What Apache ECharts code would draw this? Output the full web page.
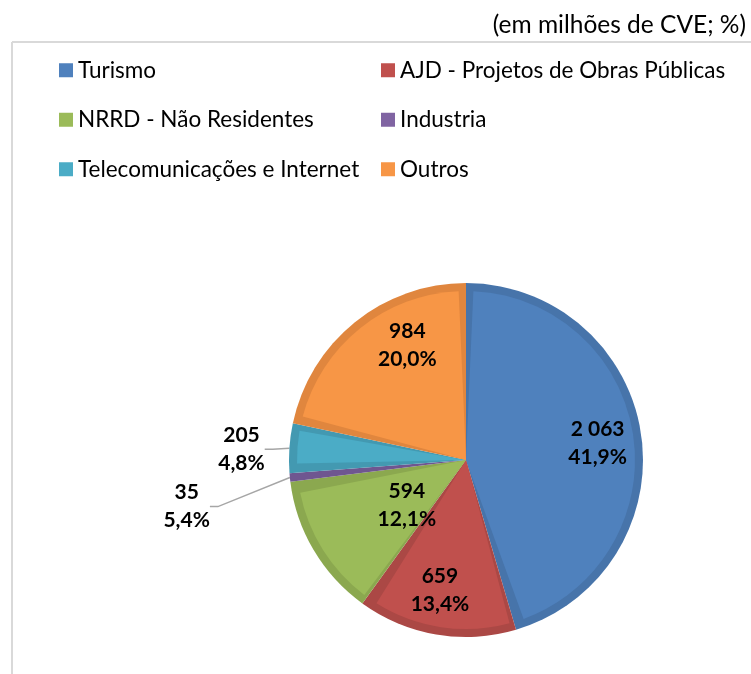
<!DOCTYPE html>
<html>
<head>
<meta charset="utf-8">
<script src="https://cdn.jsdelivr.net/npm/echarts@6/dist/echarts.min.js"></script>
<style>
  html, body { margin: 0; padding: 0; background: #fff; }
  #chart { width: 751px; height: 674px; }
</style>
</head>
<body>
<div id="chart"></div>
<script>
// data
var categories = ['Turismo', 'AJD - Projetos de Obras Públicas', 'NRRD - Não Residentes', 'Industria', 'Telecomunicações e Internet', 'Outros'];
var values = [2063, 659, 594, 35, 205, 984];
var pctLabels = ['41,9%', '13,4%', '12,1%', '5,4%', '4,8%', '20,0%'];

// styles
var fillColors = ['#4f81bd', '#c0504d', '#9bbb59', '#8064a2', '#4bacc6', '#f79646'];
var edgeColors = ['#4774aa', '#ab4845', '#8ba84f', '#6f5690', '#4399b1', '#e0863e'];
var outsideLabel = [false, false, false, true, true, false];
// label placement: distance as a fraction of the pie radius, and turn (degrees) off the slice middle
var labelRadius = [0.75, 0.75, 0.42, 1.60, 1.27, 0.73];
var labelTurn = [0.8, 1.6, -6.7, -3.8, -1.1, 12];

var FONT = 'Lato, "Open Sans", sans-serif';
var CX = 466, CY = 460, R = 177, INSET = 8;

function fmtNum(v) {
  return String(v).replace(/\B(?=(\d{3})+(?!\d))/g, ' ');
}

// middle angle of each slice, clockwise from 12 o'clock
var total = values.reduce(function (a, b) { return a + b; }, 0);
var midAngle = [];
var acc = 0;
for (var i = 0; i < values.length; i++) {
  midAngle.push((acc + values[i] / 2) / total * 360);
  acc += values[i];
}

function labelSpot(p) {
  var i = p.dataIndex;
  var a = (midAngle[i] + labelTurn[i]) * Math.PI / 180;
  return {
    x: CX + Math.sin(a) * labelRadius[i] * R,
    y: CY - Math.cos(a) * labelRadius[i] * R,
    align: 'center',
    verticalAlign: 'middle'
  };
}

var labelText = {
  color: '#000',
  fontFamily: FONT,
  fontSize: 21,
  fontWeight: 'bold',
  lineHeight: 28,
  align: 'center',
  formatter: function (p) {
    return fmtNum(values[p.dataIndex]) + '\n' + pctLabels[p.dataIndex];
  }
};

var backData = [], frontData = [];
for (var i = 0; i < categories.length; i++) {
  backData.push({
    name: categories[i],
    value: values[i],
    itemStyle: { color: edgeColors[i] },
    label: { show: outsideLabel[i] },
    labelLine: { show: outsideLabel[i] }
  });
  frontData.push({
    name: categories[i],
    value: values[i],
    itemStyle: { color: fillColors[i] },
    label: { show: !outsideLabel[i] }
  });
}

var legendStyle = {
  orient: 'vertical',
  top: 56,
  padding: 0,
  itemGap: 21,
  itemWidth: 14,
  itemHeight: 14,
  icon: 'rect',
  itemStyle: { borderWidth: 0 },
  textStyle: { fontSize: 22.5, fontFamily: FONT, color: '#000', lineHeight: 28.5 }
};

var chart = echarts.init(document.getElementById('chart'));

var option = {
  animation: false,
  title: {
    text: '(em milhões de CVE; %)',
    right: 0,
    top: 8,
    textStyle: { fontSize: 24.5, fontWeight: 'normal', fontFamily: FONT, color: '#000' }
  },
  legend: [
    Object.assign({ left: 59, data: [categories[0], categories[2], categories[4]] }, legendStyle),
    Object.assign({ left: 381, data: [categories[1], categories[3], categories[5]] }, legendStyle)
  ],
  graphic: [
    { type: 'line', shape: { x1: 12, y1: 42, x2: 751, y2: 42 }, style: { stroke: '#d9d9d9', lineWidth: 2 } },
    { type: 'line', shape: { x1: 12, y1: 42, x2: 12, y2: 674 }, style: { stroke: '#d9d9d9', lineWidth: 2 } }
  ],
  series: [{
    // lighter inner part of each slice, drawn over the darker rim
    type: 'pie',
    z: 3,
    center: [CX, CY],
    radius: [0, R - INSET],
    startAngle: 90,
    padAngle: 5,
    silent: true,
    avoidLabelOverlap: false,
    label: Object.assign({ show: true, position: 'inside' }, labelText),
    labelLine: { show: false },
    labelLayout: labelSpot,
    data: frontData
  }, {
    // full slices in the darker rim colour
    type: 'pie',
    z: 2,
    center: [CX, CY],
    radius: [0, R],
    startAngle: 90,
    silent: true,
    avoidLabelOverlap: false,
    label: Object.assign({ position: 'outside' }, labelText),
    labelLine: {
      length: 6,
      length2: 8,
      lineStyle: { color: '#a6a6a6', width: 1.5 }
    },
    labelLayout: labelSpot,
    data: backData
  }]
};

chart.setOption(option);
</script>
</body>
</html>
